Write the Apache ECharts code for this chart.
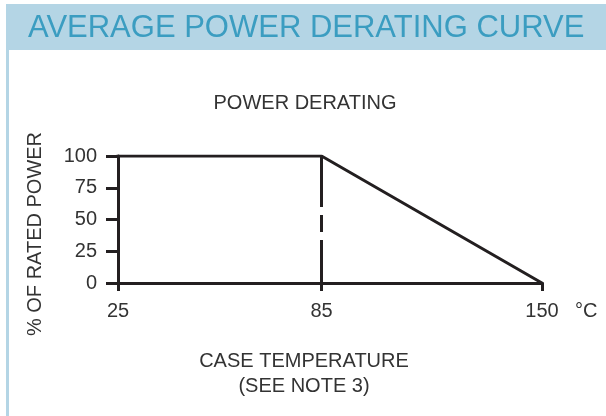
<!DOCTYPE html>
<html>
<head>
<meta charset="utf-8">
<script src="https://cdn.jsdelivr.net/npm/echarts@6/dist/echarts.min.js"></script>
<style>
  html, body { margin: 0; padding: 0; background: #ffffff; }
  #chart { width: 606px; height: 416px; }
</style>
</head>
<body>
<div id="chart"></div>
<script>
// Derating curve: full rated power up to the knee, then linear fall to zero
const temperatureTicks = [25, 85, 150];
const powerTicks = [0, 25, 50, 75, 100];
const curveTemps = [25, 85, 150];
const curvePower = [100, 100, 0];
const kneeTemp = 85;
const kneePower = [100, 0];

const ink = '#231f20';
const labelColor = '#333333';
const band = '#b4d5e5';
const headColor = '#3b9dc1';
const font = 'Liberation Sans';
const fs = 20;

const chart = echarts.init(document.getElementById('chart'), null, { renderer: 'canvas' });

chart.setOption({
  backgroundColor: '#ffffff',
  animation: false,
  grid: { left: 118, right: 64, top: 156, bottom: 133 },
  xAxis: {
    type: 'value',
    min: temperatureTicks[0],
    max: temperatureTicks[temperatureTicks.length - 1],
    name: '°C',
    nameLocation: 'end',
    nameGap: 33,
    nameTextStyle: { color: labelColor, fontFamily: font, fontSize: fs, verticalAlign: 'top', padding: [18, 0, 0, 0] },
    axisLine: { lineStyle: { color: ink, width: 3 } },
    axisTick: { show: true, length: 8, lineStyle: { color: ink, width: 3 }, customValues: temperatureTicks },
    axisLabel: { color: labelColor, fontFamily: font, fontSize: fs, margin: 18, customValues: temperatureTicks },
    splitLine: { show: false }
  },
  yAxis: {
    type: 'value',
    min: powerTicks[0],
    max: powerTicks[powerTicks.length - 1],
    interval: 25,
    axisLine: { show: true, lineStyle: { color: ink, width: 3 } },
    axisTick: { show: true, length: 12, lineStyle: { color: ink, width: 3 } },
    axisLabel: { color: labelColor, fontFamily: font, fontSize: fs, margin: 21 },
    splitLine: { show: false }
  },
  series: [
    {
      type: 'line',
      data: curveTemps.map((t, i) => [t, curvePower[i]]),
      symbol: 'none',
      lineStyle: { color: ink, width: 3, cap: 'square' },
      z: 3
    },
    {
      type: 'line',
      data: kneePower.map(p => [kneeTemp, p]),
      symbol: 'none',
      lineStyle: { color: ink, width: 3, type: [51, 8, 17, 8, 60] },
      z: 3
    }
  ],
  graphic: [
    { type: 'rect', left: 6, top: 4, shape: { width: 600, height: 46 }, style: { fill: band }, silent: true },
    { type: 'rect', left: 6, top: 50, shape: { width: 3, height: 366 }, style: { fill: band }, silent: true },
    {
      type: 'text', x: 28, y: 28,
      style: { text: 'AVERAGE POWER DERATING CURVE', fill: headColor, fontFamily: font, fontSize: 31, fontWeight: 'normal', verticalAlign: 'middle' }
    },
    {
      type: 'text', x: 305, y: 103,
      style: { text: 'POWER DERATING', fill: labelColor, fontFamily: font, fontSize: fs, align: 'center', verticalAlign: 'middle' }
    },
    {
      type: 'text', x: 35, y: 234, rotation: Math.PI / 2,
      style: { text: '% OF RATED POWER', fill: labelColor, fontFamily: font, fontSize: fs, align: 'center', verticalAlign: 'middle' }
    },
    {
      type: 'text', x: 304, y: 373.5,
      style: { text: 'CASE TEMPERATURE\n(SEE NOTE 3)', fill: labelColor, fontFamily: font, fontSize: fs, lineHeight: 25, align: 'center', verticalAlign: 'middle' }
    }
  ]
});
</script>
</body>
</html>
